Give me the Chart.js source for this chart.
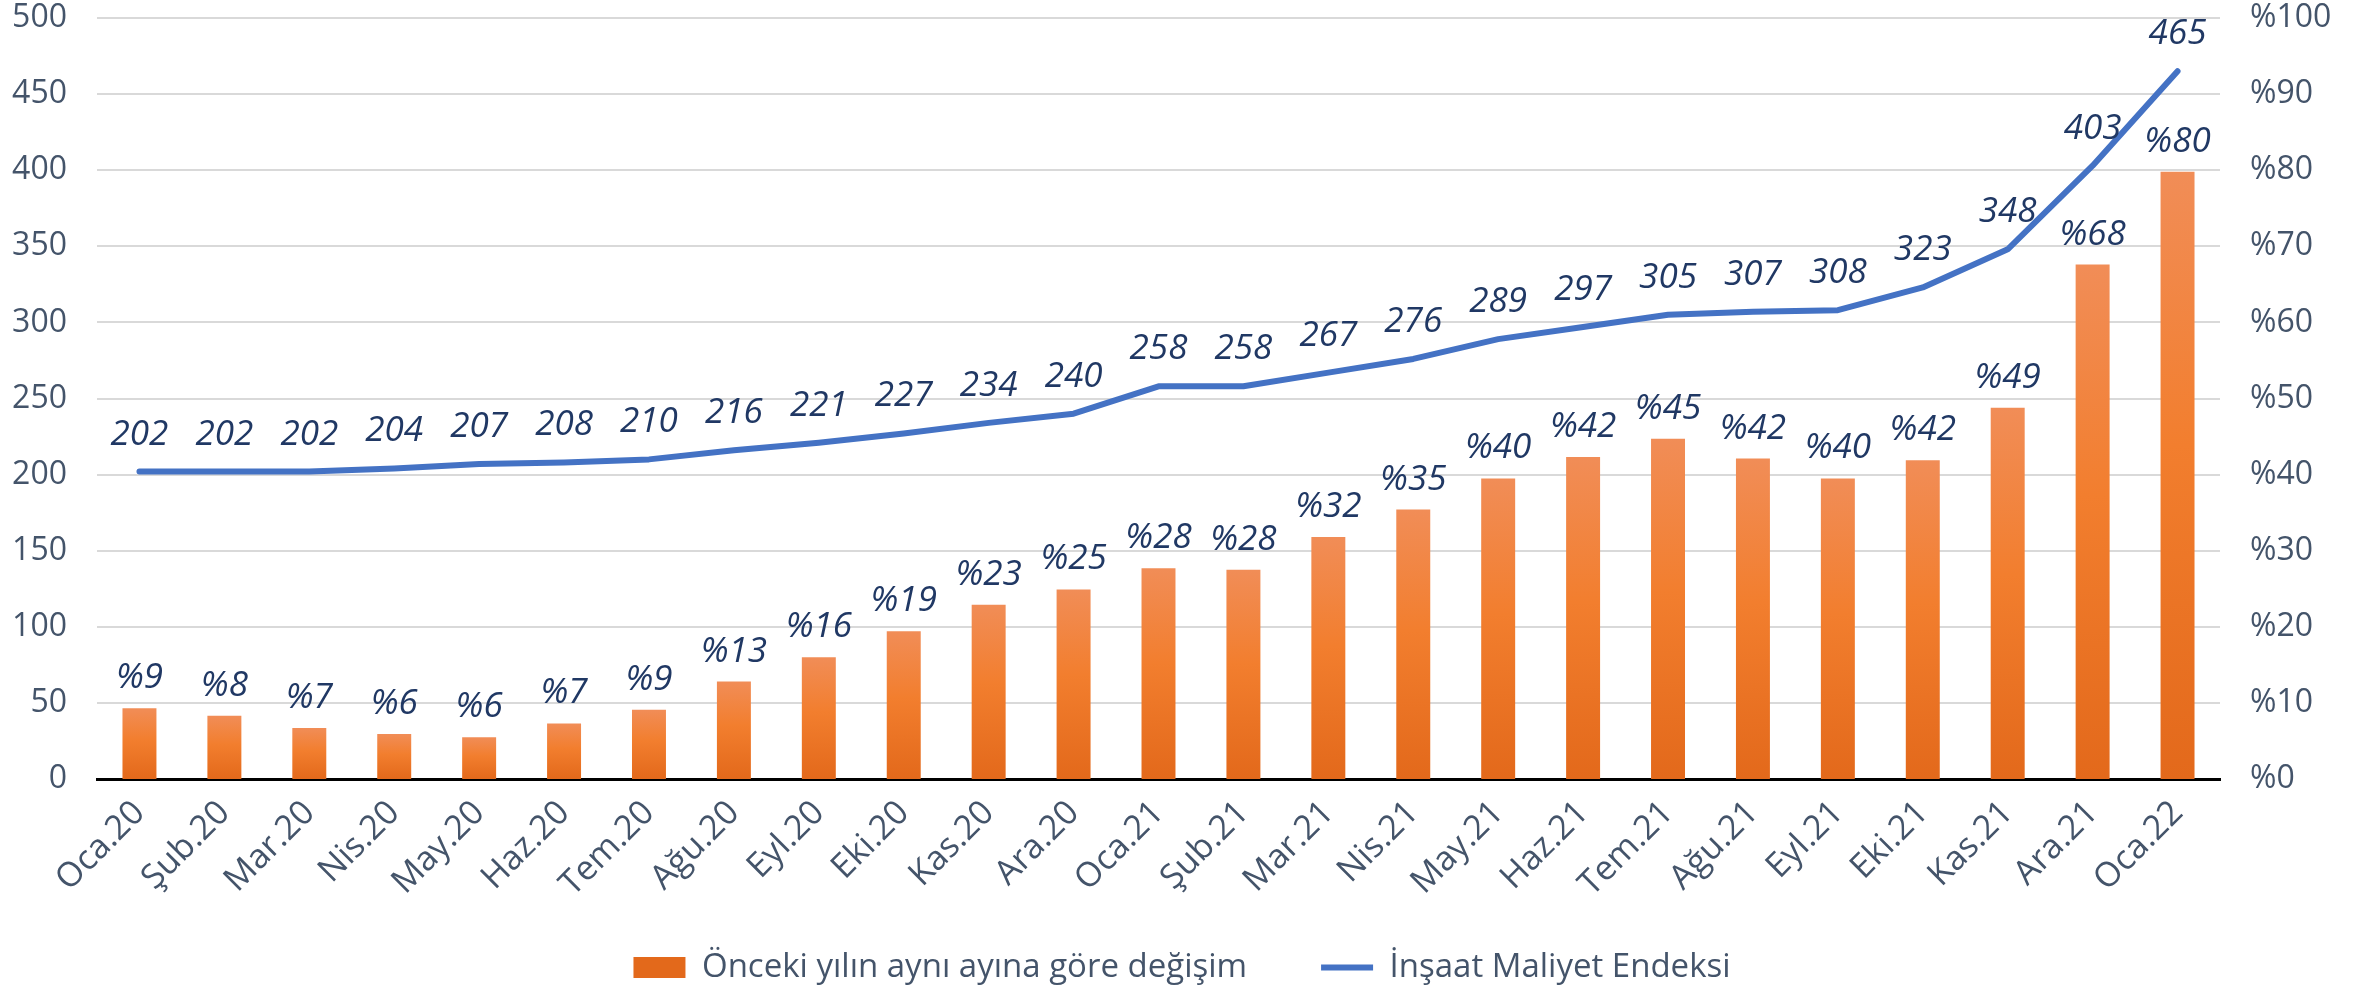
<!DOCTYPE html>
<html lang="tr">
<head>
  <meta charset="UTF-8">
  <title>İnşaat Maliyet Endeksi</title>
  <style>
    body { margin: 0; background: #fff; }
  </style>
</head>
<body>
  <canvas id="grafico" width="2364" height="994"></canvas>

  <script src="https://cdn.jsdelivr.net/npm/chart.js"></script>

  <script>
    const aylar = ["Oca.20","Şub.20","Mar.20","Nis.20","May.20","Haz.20","Tem.20","Ağu.20","Eyl.20","Eki.20","Kas.20","Ara.20",
                   "Oca.21","Şub.21","Mar.21","Nis.21","May.21","Haz.21","Tem.21","Ağu.21","Eyl.21","Eki.21","Kas.21","Ara.21","Oca.22"];
    // yıllık değişim (%)
    const degisim = [9.3,8.3,6.7,5.9,5.5,7.3,9.1,12.8,16.0,19.4,22.9,24.9,27.7,27.5,31.8,35.4,39.5,42.3,44.7,42.1,39.5,41.9,48.8,67.6,79.8];
    // endeks
    const endeks = [202,202,202,204,207,208,210,216,221,227,234,240,258,258,267,276,289,297,305,307,308,323,348,403,465];
    const solTikler = [0,50,100,150,200,250,300,350,400,450,500];
    const sagTikler = [0,10,20,30,40,50,60,70,80,90,100];

    const yaziRengi = "#44546A";
    const etiketRengi = "#203864";
    const yazi = "'Open Sans', 'DejaVu Sans', sans-serif";

    // her çubuğa kendi gradyanı
    function cubukRengi(ctx) {
      const chart = ctx.chart;
      if (!chart.chartArea || ctx.type !== "data") return "#F07F30";
      const y1 = chart.scales.y1;
      const ust = y1.getPixelForValue(ctx.raw);
      const alt = y1.getPixelForValue(0);
      if (!isFinite(ust) || !isFinite(alt) || alt - ust < 1) return "#F07F30";
      const g = chart.ctx.createLinearGradient(0, ust, 0, alt);
      g.addColorStop(0, "#F18D57");
      g.addColorStop(0.45, "#F27E2E");
      g.addColorStop(1, "#E3691B");
      return g;
    }

    const etiketler = {
      id: "etiketler",
      afterDatasetsDraw(chart) {
        const c = chart.ctx;
        c.save();
        c.font = "italic 35px " + yazi;
        c.fillStyle = etiketRengi;
        c.textAlign = "center";
        c.textBaseline = "middle";
        chart.data.datasets.forEach((ds, i) => {
          const meta = chart.getDatasetMeta(i);
          meta.data.forEach((el, j) => {
            if (ds.type === "line") {
              c.fillText(String(ds.data[j]), el.x, el.y - 37);
            } else {
              c.fillText("%" + Math.round(ds.data[j]), el.x, el.y - 30);
            }
          });
        });
        c.restore();
      }
    };

    new Chart(document.getElementById("grafico"), {
      type: "bar",
      data: {
        labels: aylar,
        datasets: [
          {
            label: "Önceki yılın aynı ayına göre değişim",
            data: degisim,
            yAxisID: "y1",
            backgroundColor: cubukRengi,
            pointStyle: "rect",
            categoryPercentage: 0.8,
            barPercentage: 0.5,
            order: 1
          },
          {
            type: "line",
            label: "İnşaat Maliyet Endeksi",
            data: endeks,
            yAxisID: "y",
            borderColor: "#4472C4",
            backgroundColor: "#4472C4",
            borderWidth: 6,
            borderCapStyle: "round",
            borderJoinStyle: "round",
            pointRadius: 0,
            pointStyle: "line",
            tension: 0,
            order: 0
          }
        ]
      },
      options: {
        responsive: false,
        animation: false,
        layout: { padding: { top: 0, left: 0, right: 0, bottom: 0 } },
        plugins: {
          tooltip: { enabled: false },
          legend: {
            position: "bottom",
            labels: {
              usePointStyle: true,
              pointStyleWidth: 52,
              boxHeight: 21,
              padding: 8,
              color: yaziRengi,
              font: { family: yazi, size: 33 },
              sort: (a, b) => a.datasetIndex - b.datasetIndex,
              generateLabels: (chart) => {
                const items = Chart.defaults.plugins.legend.labels.generateLabels(chart);
                // iki öğe arasında daha geniş boşluk
                items.forEach(it => { if (it.datasetIndex === 0) it.text += "\u2003\u2003"; });
                return items;
              }
            }
          }
        },
        scales: {
          x: {
            offset: true,
            grid: { display: false, drawTicks: false },
            border: { display: true, color: "#000", width: 3 },
            ticks: {
              autoSkip: false,
              minRotation: 45,
              maxRotation: 45,
              padding: 14,
              color: yaziRengi,
              font: { family: yazi, size: 34 }
            },
            afterFit: (s) => { s.height = 164; }
          },
          y: {
            position: "left",
            min: 0,
            max: 500,
            afterBuildTicks: (s) => { s.ticks = solTikler.map(v => ({ value: v })); },
            grid: { color: "#D9D9D9", lineWidth: 2, drawTicks: false },
            border: { display: false },
            ticks: {
              padding: 30,
              color: yaziRengi,
              font: { family: yazi, size: 32 }
            },
            afterFit: (s) => { s.width = 97; s.paddingTop = 18; s.paddingBottom = 0; }
          },
          y1: {
            position: "right",
            min: 0,
            max: 100,
            afterBuildTicks: (s) => { s.ticks = sagTikler.map(v => ({ value: v })); },
            grid: { display: false, drawTicks: false },
            border: { display: false },
            ticks: {
              padding: 30,
              color: yaziRengi,
              font: { family: yazi, size: 32 },
              callback: (v) => "%" + v
            },
            afterFit: (s) => { s.width = 144; s.paddingTop = 18; s.paddingBottom = 0; }
          }
        }
      },
      plugins: [etiketler]
    });
  </script>
</body>
</html>
